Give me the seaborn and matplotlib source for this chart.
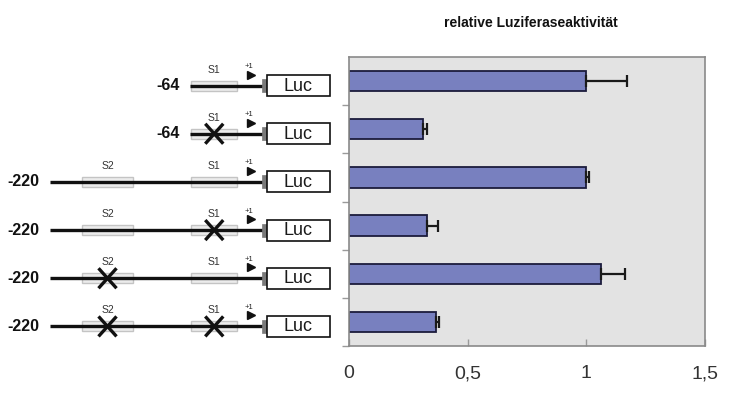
import matplotlib
matplotlib.use("Agg")
import matplotlib.pyplot as plt
from matplotlib.patches import Rectangle
import seaborn as sns
import pandas as pd

# ---- data ----
constructs = ["-64 wt", "-64 S1mut", "-220 wt", "-220 S1mut", "-220 S2mut", "-220 S1S2mut"]
activity = [1.00, 0.31, 1.00, 0.33, 1.06, 0.365]
error = [0.17, 0.02, 0.01, 0.045, 0.105, 0.015]
start_bp = [-64, -64, -220, -220, -220, -220]
has_s2 = [False, False, True, True, True, True]
s1_mut = [False, True, False, True, False, True]
s2_mut = [False, False, False, False, True, True]
x_ticks = [0, 0.5, 1, 1.5]
x_ticklabels = ["0", "0,5", "1", "1,5"]
title = "relative Luziferaseaktivität"

# schematic element positions (bp)
s1_span = (-62, -11)
s2_span = (-184, -127)
line_end = 18
conn_span = (16.7, 22.3)
luc_span = (22.3, 92.5)

sns.set_style("white")
plt.rcParams["font.family"] = ["Liberation Sans", "DejaVu Sans"]

W, H = 737, 408
fig = plt.figure(figsize=(W / 100, H / 100), dpi=100)
ax_l, ax_r, ax_t, ax_b = 349, 705, 57, 346
ax = fig.add_axes([ax_l / W, 1 - ax_b / H, (ax_r - ax_l) / W, (ax_b - ax_t) / H])

df = pd.DataFrame({"construct": constructs, "activity": activity})
sns.barplot(data=df, x="activity", y="construct", orient="h", ax=ax,
            color="#7880bf", saturation=1, width=0.42,
            edgecolor="#1c1c3c", linewidth=1.3, errorbar=None)
ypos = list(range(len(constructs)))
ax.errorbar(activity, ypos, xerr=[[0] * len(error), error], fmt="none",
            ecolor="#1a1a1a", elinewidth=1.6, capsize=4.4, capthick=1.6, zorder=5)

ax.set_facecolor("#e3e3e3")
ax.set_xlim(0, 1.5)
ax.set_ylim(5.5, -0.5)
ax.set_xticks(x_ticks)
ax.set_xticklabels(x_ticklabels, fontsize=14, color="#333333")
ax.set_yticks(ypos)
ax.set_yticklabels([])
ax.set_yticks([i + 0.5 for i in range(len(constructs))], minor=True)
ax.tick_params(axis="y", which="major", length=0, left=False)
ax.tick_params(axis="y", which="minor", left=True, length=5, direction="out",
               color="#9a9a9a", width=1)
ax.tick_params(axis="x", which="major", bottom=True, length=5, direction="in",
               color="#9a9a9a", width=1, pad=14)
ax.set_xlabel("")
ax.set_ylabel("")
for s in ax.spines.values():
    s.set_visible(True)
    s.set_color("#8a8a8a")
    s.set_linewidth(1.2)

fig.text(531 / W, 1 - 23 / H, title, ha="center", va="center",
         fontsize=10, fontweight="bold", color="#111111")

# ---- schematic on the left, sharing row positions ----
px_per_bp = 0.897
x0_bp = -247 / px_per_bp
x1_bp = (ax_l - 247) / px_per_bp
dax = fig.add_axes([0, 1 - ax_b / H, ax_l / W, (ax_b - ax_t) / H])
dax.set_xlim(x0_bp, x1_bp)
dax.set_ylim(5.5, -0.5)
dax.axis("off")
cat_px = (ax_b - ax_t) / 6.0

def py(px):
    return px / cat_px

def bx(px):
    return px / px_per_bp

for i, (st, s2, m1, m2) in enumerate(zip(start_bp, has_s2, s1_mut, s2_mut)):
    y = i + py(4.5)
    # label
    dax.text(st - bx(10), y, str(st), ha="right", va="center",
             fontsize=11.5, fontweight="bold", color="#111111")
    # boxes for S1 / S2
    boxes = [("S1", s1_span, m1)]
    if s2:
        boxes.append(("S2", s2_span, m2))
    for name, (a, b), mut in boxes:
        hh = py(10)
        dax.add_patch(Rectangle((a, y - hh / 2), b - a, hh, facecolor="#ececec",
                                edgecolor="#c4c4c4", linewidth=1.0, zorder=1))
        c = (a + b) / 2
        dax.text(c, y - py(16), name, ha="center", va="center", fontsize=7.5, color="#333333")
        if mut:
            dx, dy = bx(9), py(10)
            dax.plot([c - dx, c + dx], [y - dy, y + dy], color="#111111", lw=2.4, zorder=4,
                     solid_capstyle="butt")
            dax.plot([c - dx, c + dx], [y + dy, y - dy], color="#111111", lw=2.4, zorder=4,
                     solid_capstyle="butt")
    # DNA line
    dax.plot([st, line_end], [y, y], color="#111111", lw=2.4, zorder=3, solid_capstyle="butt")
    # promoter arrow and +1
    dax.plot([4], [y - py(11)], marker=">", markersize=5.5, color="#111111", zorder=4)
    dax.text(2, y - py(19), "+1", ha="center", va="center", fontsize=5.5, color="#222222")
    # connector and Luc box
    hc = py(13)
    dax.add_patch(Rectangle((conn_span[0], y - hc / 2), conn_span[1] - conn_span[0], hc,
                            facecolor="#7a7a7a", edgecolor="#7a7a7a", lw=0.5, zorder=3))
    hl = py(21)
    dax.add_patch(Rectangle((luc_span[0], y - hl / 2), luc_span[1] - luc_span[0], hl,
                            facecolor="white", edgecolor="#111111", lw=1.2, zorder=3))
    dax.text((luc_span[0] + luc_span[1]) / 2, y + py(0.5), "Luc", ha="center", va="center",
             fontsize=13, color="#1a1a1a", zorder=4)

fig.savefig("out.png", dpi=100)
